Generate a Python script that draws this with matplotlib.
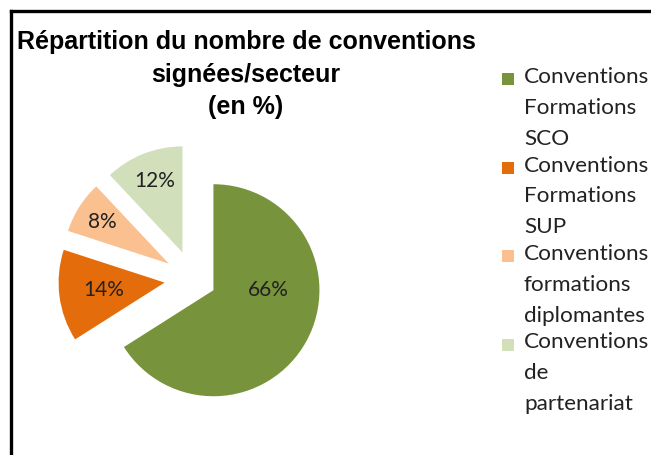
import matplotlib.pyplot as plt
from matplotlib.patches import Rectangle
from matplotlib.lines import Line2D
import numpy as np

# data
sectors = ['Conventions\nFormations\nSCO',
           'Conventions\nFormations\nSUP',
           'Conventions\nformations\ndiplomantes',
           'Conventions\nde\npartenariat']
shares = [66, 14, 8, 12]
colors = ['#77933C', '#E46C0A', '#FAC090', '#D1DFBB']
explode = [0.22, 0.27, 0.27, 0.27]
label_dist = [0.52, 0.58, 0.74, 0.72]

W, H = 651, 455
fig = plt.figure(figsize=(W / 100, H / 100), dpi=100)

# pie axes: centre at (193, 279) px, radius ~106 px
r_px = 106
cx, cy = 193, 279
half = 1.5 * r_px
ax = fig.add_axes([(cx - half) / W, (H - cy - half) / H, 2 * half / W, 2 * half / H])
wedges, _, autotexts = ax.pie(shares, colors=colors, explode=explode, startangle=90,
                              counterclock=False, autopct='%1.0f%%', pctdistance=0.6,
                              radius=1.0, textprops={'fontsize': 15, 'color': '#222222',
                                                     'family': ['Lato', 'DejaVu Sans']})
ax.set_xlim(-1.5, 1.5)
ax.set_ylim(-1.5, 1.5)
ax.set_aspect('equal')
ax.axis('off')

# place the percentage labels inside each exploded wedge
for i, (w, t) in enumerate(zip(wedges, autotexts)):
    ang = np.deg2rad((w.theta1 + w.theta2) / 2)
    if i == 0:
        ang = 0.0
    x0, y0 = w.center
    t.set_position((x0 + label_dist[i] * np.cos(ang), y0 + label_dist[i] * np.sin(ang)))

# title
fig.text(246 / W, 1 - 30 / H, 'Répartition du nombre de conventions\nsignées/secteur\n(en %)',
         ha='center', va='top', fontsize=18, fontweight='bold', linespacing=1.45,
         family=['Liberation Sans', 'DejaVu Sans'])

# legend drawn by hand (Excel-like wrapped labels)
for i, (lab, col) in enumerate(zip(sectors, colors)):
    y = 79 + i * 88.5
    fig.add_artist(Rectangle((502 / W, 1 - (y + 6) / H), 12 / W, 12 / H,
                             transform=fig.transFigure, color=col, lw=0))
    fig.text(524 / W, 1 - (y - 12) / H, lab, ha='left', va='top', fontsize=16.2,
             linespacing=1.68, family=['Lato', 'DejaVu Sans'], color='#222222')

# frame lines (left and top only visible)
fig.add_artist(Line2D([11 / W, 11 / W], [0, 1 - 11 / H], transform=fig.transFigure,
                      color='black', lw=2.4))
fig.add_artist(Line2D([11 / W, 1], [1 - 11 / H, 1 - 11 / H], transform=fig.transFigure,
                      color='black', lw=2.4))

fig.savefig('out.png', dpi=100)
